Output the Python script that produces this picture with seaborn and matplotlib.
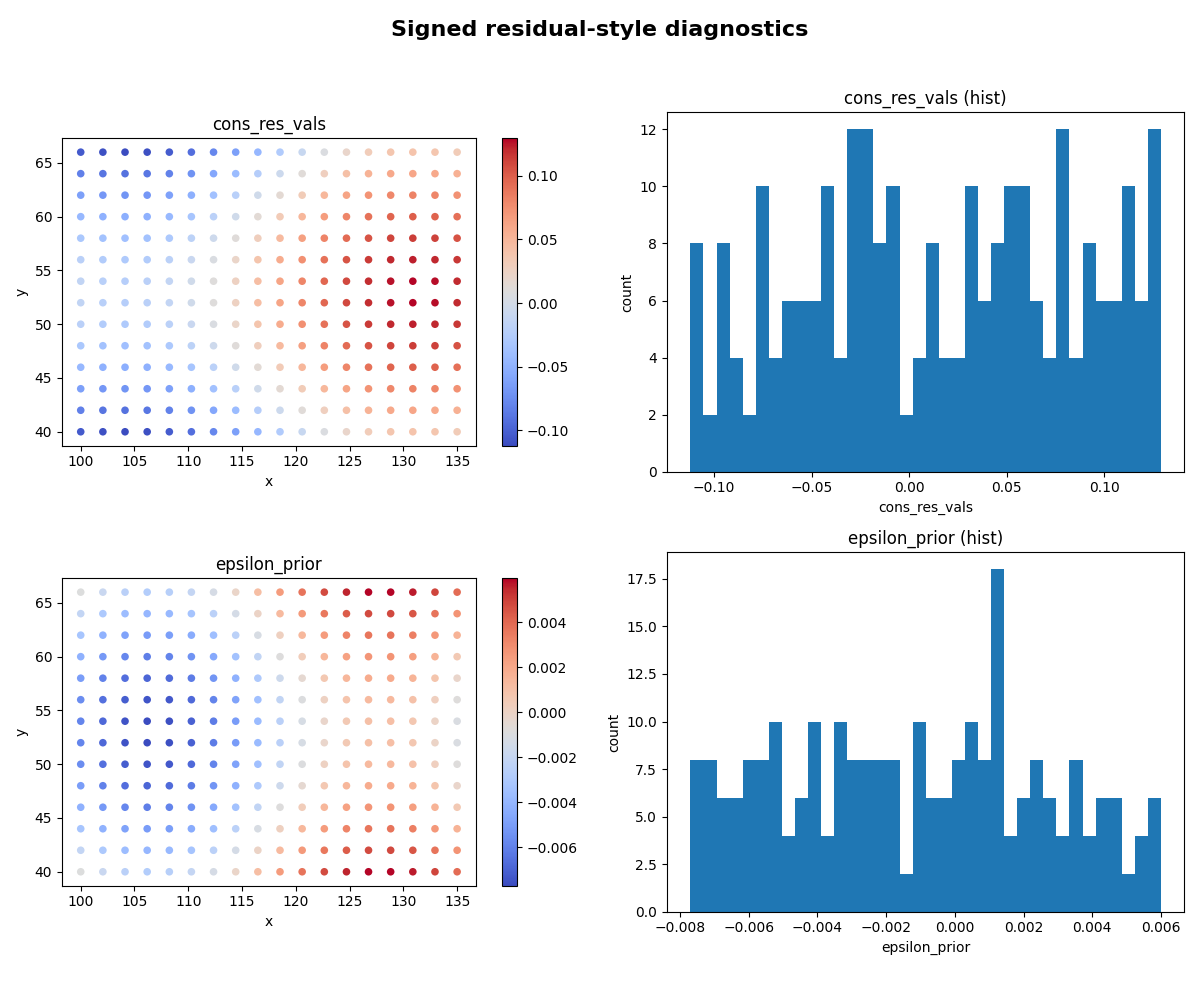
import numpy as np
import pandas as pd
import matplotlib
matplotlib.use('Agg')
import matplotlib.pyplot as plt
import seaborn as sns
from matplotlib.colors import Normalize
from matplotlib.cm import ScalarMappable

# grid coordinates
x_vals = [100.0, 102.06, 104.12, 106.18, 108.24, 110.29, 112.35, 114.41, 116.47,
          118.53, 120.59, 122.65, 124.71, 126.76, 128.82, 130.88, 132.94, 135.0]
y_vals = [40, 42, 44, 46, 48, 50, 52, 54, 56, 58, 60, 62, 64, 66]

# cons_res_vals, one row per y (40 -> 66), estimated from the colours
cons_res_vals = [
    [-0.1039, -0.1101, -0.1120, -0.1096, -0.1030, -0.0925, -0.0789, -0.0628, -0.0452, -0.0270, -0.0094, 0.0067, 0.0204, 0.0308, 0.0374, 0.0398, 0.0379, 0.0318],
    [-0.0824, -0.0886, -0.0905, -0.0881, -0.0815, -0.0710, -0.0574, -0.0413, -0.0237, -0.0055, 0.0121, 0.0282, 0.0419, 0.0523, 0.0589, 0.0613, 0.0594, 0.0533],
    [-0.0622, -0.0684, -0.0703, -0.0679, -0.0613, -0.0508, -0.0372, -0.0211, -0.0035, 0.0147, 0.0323, 0.0484, 0.0621, 0.0725, 0.0791, 0.0815, 0.0796, 0.0735],
    [-0.0443, -0.0505, -0.0524, -0.0500, -0.0434, -0.0329, -0.0193, -0.0032, 0.0144, 0.0326, 0.0502, 0.0663, 0.0800, 0.0904, 0.0970, 0.0994, 0.0975, 0.0914],
    [-0.0300, -0.0362, -0.0381, -0.0357, -0.0291, -0.0186, -0.0050, 0.0111, 0.0287, 0.0469, 0.0645, 0.0806, 0.0943, 0.1047, 0.1113, 0.1137, 0.1118, 0.1057],
    [-0.0199, -0.0261, -0.0280, -0.0256, -0.0190, -0.0085, 0.0051, 0.0212, 0.0388, 0.0570, 0.0746, 0.0907, 0.1044, 0.1148, 0.1214, 0.1238, 0.1219, 0.1158],
    [-0.0147, -0.0209, -0.0228, -0.0204, -0.0138, -0.0033, 0.0103, 0.0264, 0.0440, 0.0622, 0.0798, 0.0959, 0.1096, 0.1200, 0.1266, 0.1295, 0.1271, 0.1210],
    [-0.0147, -0.0209, -0.0228, -0.0204, -0.0138, -0.0033, 0.0103, 0.0264, 0.0440, 0.0622, 0.0798, 0.0959, 0.1096, 0.1200, 0.1266, 0.1295, 0.1271, 0.1210],
    [-0.0199, -0.0261, -0.0280, -0.0256, -0.0190, -0.0085, 0.0051, 0.0212, 0.0388, 0.0570, 0.0746, 0.0907, 0.1044, 0.1148, 0.1214, 0.1238, 0.1219, 0.1158],
    [-0.0300, -0.0362, -0.0381, -0.0357, -0.0291, -0.0186, -0.0050, 0.0111, 0.0287, 0.0469, 0.0645, 0.0806, 0.0943, 0.1047, 0.1113, 0.1137, 0.1118, 0.1057],
    [-0.0443, -0.0505, -0.0524, -0.0500, -0.0434, -0.0329, -0.0193, -0.0032, 0.0144, 0.0326, 0.0502, 0.0663, 0.0800, 0.0904, 0.0970, 0.0994, 0.0975, 0.0914],
    [-0.0622, -0.0684, -0.0703, -0.0679, -0.0613, -0.0508, -0.0372, -0.0211, -0.0035, 0.0147, 0.0323, 0.0484, 0.0621, 0.0725, 0.0791, 0.0815, 0.0796, 0.0735],
    [-0.0824, -0.0886, -0.0905, -0.0881, -0.0815, -0.0710, -0.0574, -0.0413, -0.0237, -0.0055, 0.0121, 0.0282, 0.0419, 0.0523, 0.0589, 0.0613, 0.0594, 0.0533],
    [-0.1039, -0.1101, -0.1120, -0.1096, -0.1030, -0.0925, -0.0789, -0.0628, -0.0452, -0.0270, -0.0094, 0.0067, 0.0204, 0.0308, 0.0374, 0.0398, 0.0379, 0.0318],
]

# epsilon_prior, same layout
epsilon_prior = [
    [-0.00092, -0.00187, -0.00250, -0.00276, -0.00262, -0.00210, -0.00125, -0.00013, 0.00114, 0.00246, 0.00370, 0.00475, 0.00554, 0.00592, 0.00595, 0.00565, 0.00490, 0.00389],
    [-0.00211, -0.00306, -0.00369, -0.00395, -0.00381, -0.00329, -0.00244, -0.00132, -0.00005, 0.00127, 0.00251, 0.00356, 0.00435, 0.00477, 0.00481, 0.00446, 0.00371, 0.00270],
    [-0.00323, -0.00418, -0.00481, -0.00507, -0.00493, -0.00441, -0.00356, -0.00244, -0.00117, 0.00015, 0.00139, 0.00244, 0.00323, 0.00365, 0.00369, 0.00334, 0.00259, 0.00158],
    [-0.00422, -0.00517, -0.00580, -0.00606, -0.00592, -0.00540, -0.00455, -0.00343, -0.00216, -0.00084, 0.00040, 0.00145, 0.00224, 0.00266, 0.00270, 0.00235, 0.00160, 0.00059],
    [-0.00502, -0.00597, -0.00660, -0.00686, -0.00672, -0.00620, -0.00535, -0.00423, -0.00296, -0.00164, -0.00040, 0.00065, 0.00144, 0.00186, 0.00190, 0.00155, 0.00080, -0.00021],
    [-0.00558, -0.00653, -0.00716, -0.00742, -0.00728, -0.00676, -0.00591, -0.00479, -0.00352, -0.00220, -0.00096, 0.00009, 0.00088, 0.00130, 0.00134, 0.00099, 0.00024, -0.00077],
    [-0.00586, -0.00681, -0.00744, -0.00770, -0.00756, -0.00704, -0.00619, -0.00507, -0.00380, -0.00248, -0.00124, -0.00019, 0.00060, 0.00102, 0.00106, 0.00071, -0.00004, -0.00105],
    [-0.00586, -0.00681, -0.00744, -0.00770, -0.00756, -0.00704, -0.00619, -0.00507, -0.00380, -0.00248, -0.00124, -0.00019, 0.00060, 0.00102, 0.00106, 0.00071, -0.00004, -0.00105],
    [-0.00558, -0.00653, -0.00716, -0.00742, -0.00728, -0.00676, -0.00591, -0.00479, -0.00352, -0.00220, -0.00096, 0.00009, 0.00088, 0.00130, 0.00134, 0.00099, 0.00024, -0.00077],
    [-0.00502, -0.00597, -0.00660, -0.00686, -0.00672, -0.00620, -0.00535, -0.00423, -0.00296, -0.00164, -0.00040, 0.00065, 0.00144, 0.00186, 0.00190, 0.00155, 0.00080, -0.00021],
    [-0.00422, -0.00517, -0.00580, -0.00606, -0.00592, -0.00540, -0.00455, -0.00343, -0.00216, -0.00084, 0.00040, 0.00145, 0.00224, 0.00266, 0.00270, 0.00235, 0.00160, 0.00059],
    [-0.00323, -0.00418, -0.00481, -0.00507, -0.00493, -0.00441, -0.00356, -0.00244, -0.00117, 0.00015, 0.00139, 0.00244, 0.00323, 0.00365, 0.00369, 0.00334, 0.00259, 0.00158],
    [-0.00211, -0.00306, -0.00369, -0.00395, -0.00381, -0.00329, -0.00244, -0.00132, -0.00005, 0.00127, 0.00251, 0.00356, 0.00435, 0.00477, 0.00481, 0.00446, 0.00371, 0.00270],
    [-0.00092, -0.00187, -0.00250, -0.00276, -0.00262, -0.00210, -0.00125, -0.00013, 0.00114, 0.00246, 0.00370, 0.00475, 0.00554, 0.00592, 0.00595, 0.00565, 0.00490, 0.00389],
]

# histogram bin counts (36 bins each)
cons_hist_counts = [8, 2, 8, 4, 2, 10, 4, 6, 6, 6, 10, 4, 12, 12, 8, 10, 2, 4,
                    8, 4, 4, 10, 6, 8, 10, 10, 6, 4, 12, 4, 8, 6, 6, 10, 6, 12]
cons_hist_range = (-0.1122, 0.1291)
eps_hist_counts = [8, 8, 6, 6, 8, 8, 10, 4, 6, 10, 4, 10, 8, 8, 8, 8, 2, 10,
                   6, 6, 8, 10, 8, 18, 4, 6, 8, 6, 4, 8, 4, 6, 6, 2, 4, 6]
eps_hist_range = (-0.0077, 0.0060)

fields = [('cons_res_vals', cons_res_vals, cons_hist_counts, cons_hist_range),
          ('epsilon_prior', epsilon_prior, eps_hist_counts, eps_hist_range)]

gx, gy = np.meshgrid(x_vals, y_vals)

fig, axs = plt.subplots(2, 2, figsize=(12, 10))

for row, (name, vals, counts, hrange) in enumerate(fields):
    v = np.array(vals)
    df = pd.DataFrame({'x': gx.ravel(), 'y': gy.ravel(), name: v.ravel()})
    norm = Normalize(v.min(), v.max())

    ax = axs[row, 0]
    sns.scatterplot(data=df, x='x', y='y', hue=name, palette='coolwarm',
                    hue_norm=norm, s=30, linewidth=0, legend=False, ax=ax)
    ax.set_aspect('equal')
    ax.set_title(name)
    sm = ScalarMappable(norm=norm, cmap='coolwarm')
    fig.colorbar(sm, ax=ax, shrink=0.855)

    # histogram drawn from bin counts
    nb = len(counts)
    width = (hrange[1] - hrange[0]) / nb
    centers = [hrange[0] + (k + 0.5) * width for k in range(nb)]
    ax = axs[row, 1]
    sns.histplot(x=centers, weights=counts, bins=nb, binrange=hrange,
                 color='#1f77b4', alpha=1, linewidth=0, ax=ax)
    ax.set_title(name + ' (hist)')
    ax.set_xlabel(name)
    ax.set_ylabel('count')

fig.suptitle('Signed residual-style diagnostics', fontsize=16, fontweight='bold')
fig.tight_layout(rect=[0, 0.03, 1, 0.96])
plt.savefig('out.png', dpi=100)
